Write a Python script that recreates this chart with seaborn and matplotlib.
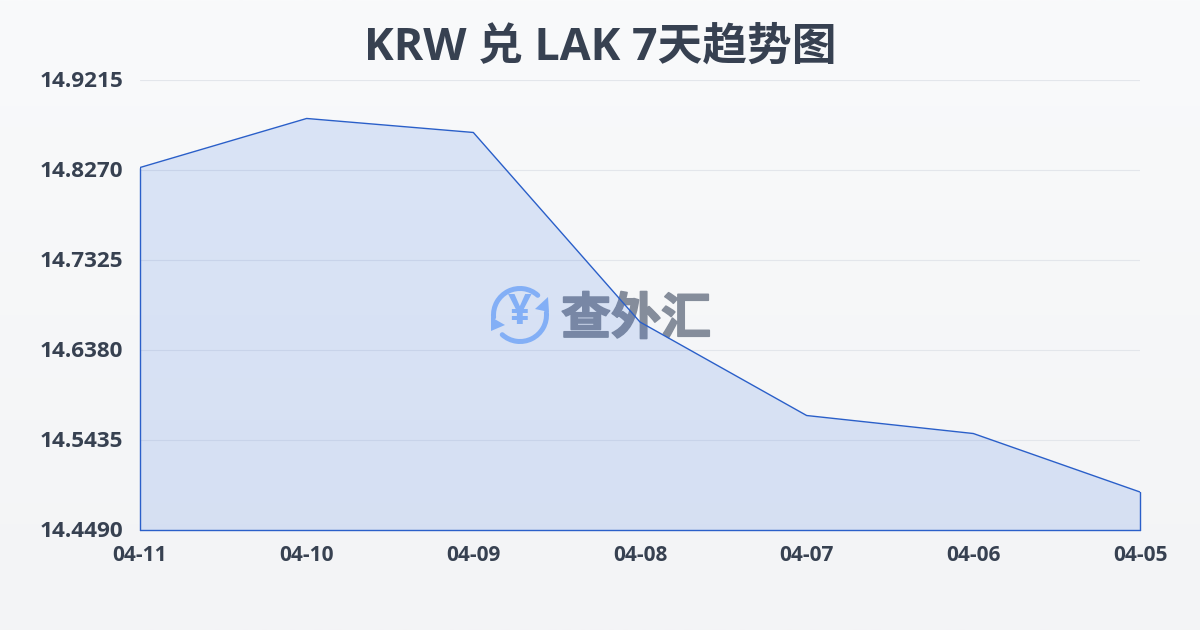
import numpy as np
import pandas as pd
import matplotlib
matplotlib.use("Agg")
import matplotlib.pyplot as plt
import matplotlib.patheffects as pe
from matplotlib.patches import Arc, Polygon
import seaborn as sns

dates = ["04-11", "04-10", "04-09", "04-08", "04-07", "04-06", "04-05"]
rates = [14.8296, 14.8811, 14.8664, 14.6674, 14.5692, 14.5503, 14.4889]
yticks = [14.4490, 14.5435, 14.6380, 14.7325, 14.8270, 14.9215]
title = "KRW 兑 LAK 7天趋势图"
watermark = "查外汇"

sns.set_theme(style="white")
plt.rcParams['font.family'] = ['Open Sans', 'Noto Sans CJK SC', 'DejaVu Sans']

W, H = 1200, 630
fig = plt.figure(figsize=(W / 100, H / 100), dpi=100)

bg = fig.add_axes([0, 0, 1, 1], zorder=0)
bg.imshow(np.linspace(0, 1, 256).reshape(-1, 1), aspect="auto", extent=(0, 1, 0, 1),
          cmap=matplotlib.colors.LinearSegmentedColormap.from_list("b", ["#f9fafb", "#f3f4f6"]))
bg.axis("off")

ax = fig.add_axes([140 / W, 1 - 530 / H, 1000 / W, 450 / H], zorder=2)
ax.patch.set_alpha(0)
df = pd.DataFrame({"date": dates, "rate": rates})
df["pos"] = range(len(df))

ax.fill_between(df["pos"], df["rate"], yticks[0], color="#2f6be0", alpha=0.15, lw=0, zorder=2)
sns.lineplot(data=df, x="pos", y="rate", ax=ax, color="#2a5fc9", lw=1, zorder=3, legend=False)
ax.plot([0, 0], [yticks[0], rates[0]], color="#2a5fc9", lw=1, zorder=3, clip_on=False)
ax.plot([6, 6], [yticks[0], rates[-1]], color="#2a5fc9", lw=1, zorder=3, clip_on=False)
ax.plot([0, 6], [yticks[0], yticks[0]], color="#2a5fc9", lw=1, zorder=3, clip_on=False)

ax.set_xlim(0, 6)
ax.set_ylim(yticks[0], yticks[-1])
ax.set_xticks(df["pos"], dates)
ax.set_yticks(yticks, [f"{v:.4f}" for v in yticks])
ax.set_xlabel("")
ax.set_ylabel("")
ax.grid(axis="y", color="#e3e6eb", lw=0.8, zorder=1)
ax.set_axisbelow(True)
for s in ax.spines.values():
    s.set_visible(False)
ax.tick_params(axis="y", length=0, pad=12, labelsize=16.2, labelcolor="#374151")
ax.tick_params(axis="x", length=6, width=0.8, color="#dfe2e7", pad=5, labelsize=15, labelcolor="#374151")
for t in ax.get_xticklabels() + ax.get_yticklabels():
    t.set_fontweight("bold")
for t in ax.get_yticklabels():
    t.set_transform(t.get_transform() + matplotlib.transforms.Affine2D().translate(0, 1))

fig.text(0.5, 1 - 48 / H, title, ha="center", va="center", fontsize=32.2,
         fontweight="bold", color="#374151", zorder=5)

# watermark layer in pixel coordinates, under the line
ov = fig.add_axes([0, 0, 1, 1], zorder=1)
ov.set_xlim(0, W)
ov.set_ylim(H, 0)
ov.axis("off")
ov.patch.set_alpha(0)
blue = "#92bcfa"
cx, cy, r = 520, 315, 26.5
ov.add_patch(Arc((cx, cy), 2 * r, 2 * r, theta1=175, theta2=312, color=blue, lw=3.6, capstyle="round"))
ov.add_patch(Arc((cx, cy), 2 * r, 2 * r, theta1=-5, theta2=132, color=blue, lw=3.6, capstyle="round"))
ov.add_patch(Polygon([[548, 297], [549, 312], [535, 309]], color=blue, lw=0))
ov.add_patch(Polygon([[491, 317], [491, 331], [505, 325]], color=blue, lw=0))
ov.text(cx, cy - 1, "¥", ha="center", va="center", fontsize=30, fontweight="bold", color=blue)
ov.text(636, 321, watermark, ha="center", va="center", fontsize=36, fontweight="bold",
        color="#858d9b",
        path_effects=[pe.withStroke(linewidth=1.2, foreground="#858d9b")])

fig.savefig("out.png", dpi=100)
